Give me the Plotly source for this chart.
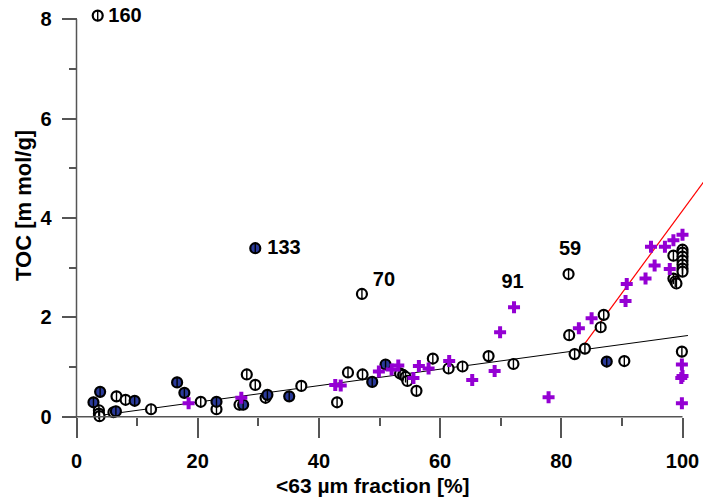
import plotly.graph_objects as go

# ---- data ----
black_x = [3.5, 3.7, 3.7, 3.8, 6.1, 6.6, 8.1, 12.3, 20.5, 23.1, 28.1, 29.5, 26.9, 31.2, 37.1,
           43.0, 44.8, 47.2, 47.1, 53.4, 53.9, 54.3, 54.6, 56.1, 58.8, 61.4, 63.7, 68.0, 72.1,
           81.2, 81.3, 82.2, 83.9, 86.5, 87.0, 90.4, 98.5, 98.5, 98.8, 99.0,
           100.0, 100.0, 100.0, 100.0, 100.0, 100.0, 100.0, 99.9]
black_y = [8.07, 0.13, 0.06, 0.01, 0.09, 0.41, 0.34, 0.15, 0.30, 0.15, 0.85, 0.64, 0.24, 0.38, 0.62,
           0.29, 0.89, 0.85, 2.47, 0.87, 0.84, 0.80, 0.72, 0.52, 1.17, 0.97, 1.01, 1.22, 1.06,
           2.87, 1.64, 1.26, 1.37, 1.80, 2.05, 1.12, 3.24, 2.78, 2.72, 2.68,
           3.36, 3.30, 3.22, 3.14, 3.06, 2.98, 2.92, 1.31]

blue_x = [2.8, 3.9, 6.5, 9.6, 16.6, 17.8, 23.1, 27.5, 29.5, 31.5, 35.1, 48.8, 51.0, 87.5]
blue_y = [0.29, 0.50, 0.11, 0.32, 0.69, 0.48, 0.30, 0.24, 3.39, 0.44, 0.41, 0.70, 1.05, 1.11]

purple_x = [18.5, 27.2, 42.7, 43.6, 49.9, 52.0, 53.1, 55.6, 56.5, 58.1, 61.5, 65.3, 69.0, 69.9,
            72.2, 77.9, 82.9, 85.0, 90.6, 90.8, 93.9, 94.8, 95.4, 97.1, 97.9, 98.5, 100.0,
            99.9, 100.0, 99.8, 99.9]
purple_y = [0.27, 0.38, 0.64, 0.63, 0.91, 0.95, 1.03, 0.78, 1.02, 0.97, 1.12, 0.74, 0.92, 1.70,
            2.20, 0.39, 1.78, 1.98, 2.33, 2.67, 2.78, 3.42, 3.04, 3.42, 2.97, 3.55, 3.66,
            1.05, 0.82, 0.78, 0.27]

# regression lines (end points)
fit_black_x = [2.3, 100.9]
fit_black_y = [0.0, 1.634]
fit_red_x = [82.3, 104.0]
fit_red_y = [1.21, 4.81]

# sample labels
label_text = ["160", "133", "70", "91", "59"]
label_x = [8.0, 34.24, 50.74, 71.95, 81.45]
label_y = [8.04, 3.374, 2.73, 2.69, 3.364]

x_ticks = [0, 20, 40, 60, 80, 100]
y_ticks = [0, 2, 4, 6, 8]

FONT = "Liberation Sans Narrow, Arial Narrow, Liberation Sans, Arial, sans-serif"
AXC = "#555555"

fig = go.Figure()

fig.add_trace(go.Scatter(x=fit_black_x, y=fit_black_y, mode="lines",
                         line=dict(color="black", width=1), hoverinfo="skip"))
fig.add_trace(go.Scatter(x=fit_red_x, y=fit_red_y, mode="lines",
                         line=dict(color="red", width=1.2), hoverinfo="skip"))

# black open ellipses with vertical bar
fig.add_trace(go.Scatter(x=black_x, y=black_y, mode="markers", cliponaxis=False,
                         marker=dict(symbol="circle", size=10, color="white",
                                     line=dict(color="black", width=2.2))))
fig.add_trace(go.Scatter(x=black_x, y=black_y, mode="markers", cliponaxis=False,
                         marker=dict(symbol="line-ns", size=8,
                                     line=dict(color="black", width=1.4))))
# blue-filled ellipses
fig.add_trace(go.Scatter(x=blue_x, y=blue_y, mode="markers", cliponaxis=False,
                         marker=dict(symbol="circle", size=10, color="#2a3a9a",
                                     line=dict(color="black", width=2.2))))
fig.add_trace(go.Scatter(x=blue_x, y=blue_y, mode="markers", cliponaxis=False,
                         marker=dict(symbol="line-ns", size=8,
                                     line=dict(color="black", width=1.4))))
# purple crosses
fig.add_trace(go.Scatter(x=purple_x, y=purple_y, mode="markers", cliponaxis=False,
                         marker=dict(symbol="cross", size=10, color="#9400D3",
                                     line=dict(width=0))))

fig.add_trace(go.Scatter(x=label_x, y=label_y, mode="text", text=label_text,
                         cliponaxis=False,
                         textfont=dict(family=FONT, size=20, color="black", weight="bold"),
                         textposition="middle center", hoverinfo="skip"))

# axis spines
fig.add_shape(type="line", xref="x", yref="y", x0=0, x1=100, y0=0, y1=0,
              line=dict(color=AXC, width=1.5))
fig.add_shape(type="line", xref="x", yref="y", x0=0, x1=0, y0=0, y1=8,
              line=dict(color=AXC, width=1.5))

L, B = 20, 40
W, H = 703, 501
pw, ph = W - L, H - B
px_per_x = 6.06
px_per_y = 49.7
x0_px = 76.5
y0_px = 416.7
xmin = (L - x0_px) / px_per_x
xmax = (W - x0_px) / px_per_x
ymin = -(ph - y0_px) / px_per_y
ymax = y0_px / px_per_y

fig.update_layout(
    width=W, height=H, showlegend=False,
    margin=dict(l=L, r=0, t=0, b=B, pad=0),
    paper_bgcolor="white", plot_bgcolor="white",
    font=dict(family=FONT, color="black"),
    xaxis=dict(range=[xmin, xmax], anchor="free", position=(ph - y0_px) / ph,
               showgrid=False, zeroline=False, showline=False,
               tickvals=x_ticks, ticktext=[str(v) for v in x_ticks],
               ticks="outside", ticklen=20, tickwidth=1.5, tickcolor=AXC,
               ticklabelstandoff=6,
               tickfont=dict(family=FONT, size=20, color="black", weight="bold"),
               minor=dict(tickvals=[10, 30, 50, 70, 90], ticks="outside", ticklen=8,
                          tickwidth=1.5, tickcolor=AXC, showgrid=False)),
    yaxis=dict(range=[ymin, ymax], anchor="free", position=(x0_px - L) / pw,
               showgrid=False, zeroline=False, showline=False,
               tickvals=y_ticks, ticktext=[str(v) for v in y_ticks],
               ticks="outside", ticklen=15, tickwidth=1.5, tickcolor=AXC,
               ticklabelstandoff=6,
               tickfont=dict(family=FONT, size=20, color="black", weight="bold"),
               minor=dict(tickvals=[1, 3, 5, 7], ticks="outside", ticklen=8,
                          tickwidth=1.5, tickcolor=AXC, showgrid=False)),
)

fig.add_annotation(text="<63 µm fraction [%]", xref="paper", yref="paper",
                   x=(373 - L) / pw, y=(ph - 485) / ph, xanchor="center", yanchor="middle",
                   showarrow=False,
                   font=dict(family=FONT, size=21, color="black", weight="bold"))
fig.add_annotation(text="TOC [m mol/g]", xref="paper", yref="paper",
                   x=(24 - L) / pw, y=(ph - 206) / ph, xanchor="center", yanchor="middle",
                   textangle=-90, showarrow=False,
                   font=dict(family="Liberation Sans, Arial, sans-serif", size=22,
                             color="black", weight="bold"))

fig.write_html("out.html")
